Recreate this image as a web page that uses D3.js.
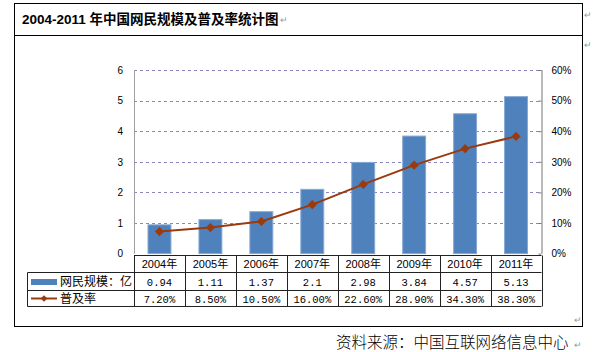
<!DOCTYPE html>
<html>
<head>
<meta charset="utf-8">
<script src="https://cdn.jsdelivr.net/npm/d3@7/dist/d3.min.js"></script>
<style>
  body { margin: 0; background: #fff; }
  svg { display: block; }
  text { font-family: "Liberation Sans", "Noto Sans CJK SC", sans-serif; }
  .cjk { font-family: "Noto Sans CJK SC", sans-serif; }
  .mono { font-family: "Liberation Mono", "Noto Sans CJK SC", monospace; }
  .mark { fill: #9a9a9a; font-size: 9px; }
</style>
</head>
<body>
<div id="chart"></div>
<script>
// 2004-2011 中国网民规模及普及率
const years = ["2004年", "2005年", "2006年", "2007年", "2008年", "2009年", "2010年", "2011年"];
const users = [0.94, 1.11, 1.37, 2.1, 2.98, 3.84, 4.57, 5.13];        // 亿
const rate = [7.2, 8.5, 10.5, 16.0, 22.6, 28.9, 34.3, 38.3];           // %
const userLabels = ["0.94", "1.11", "1.37", "2.1", "2.98", "3.84", "4.57", "5.13"];
const leftTicks = [0, 1, 2, 3, 4, 5, 6];
const rightTicks = [0, 10, 20, 30, 40, 50, 60];

const width = 594, height = 352;
const plot = { left: 134, right: 541.5, top: 70, bottom: 253.6 };

const svg = d3.select("#chart").append("svg")
  .attr("width", width).attr("height", height);

// frame (word table look)
svg.append("rect").attr("x", 14.5).attr("y", 3.5).attr("width", 568).attr("height", 323)
  .attr("fill", "none").attr("stroke", "#000").attr("stroke-width", 1);
svg.append("line").attr("x1", 14.5).attr("x2", 582.5).attr("y1", 35.5).attr("y2", 35.5)
  .attr("stroke", "#000");

const title = svg.append("text").attr("x", 22).attr("y", 24)
  .style("font-size", "13.5px").style("font-weight", "bold")
  .text("2004-2011 年中国网民规模及普及率统计图");
const tw = title.node().getComputedTextLength();
svg.append("text").attr("class", "mark").attr("x", 22 + tw + 1).attr("y", 23).text("↵");
svg.append("text").attr("class", "mark").attr("x", 584).attr("y", 18).text("↵");
svg.append("text").attr("class", "mark").attr("x", 584).attr("y", 48).text("↵");
svg.append("text").attr("class", "mark").attr("x", 574).attr("y", 323).text("↵");

// SCALES
const x = d3.scaleBand().domain(years).range([plot.left, plot.right]);
const yL = d3.scaleLinear().domain([0, 6]).range([plot.bottom, plot.top]);
const yR = d3.scaleLinear().domain([0, 60]).range([plot.bottom, plot.top]);
const barW = x.bandwidth() * 0.45;

// GRIDLINES
svg.append("g").selectAll("line").data(leftTicks.slice(1)).join("line")
  .attr("x1", plot.left).attr("x2", plot.right)
  .attr("y1", d => Math.round(yL(d)) + 0.5).attr("y2", d => Math.round(yL(d)) + 0.5)
  .attr("stroke", "#8a87c0").attr("stroke-width", 1).attr("stroke-dasharray", "3,3");

// BARS
svg.append("g").selectAll("rect").data(years).join("rect")
  .attr("x", d => x(d) + (x.bandwidth() - barW) / 2)
  .attr("width", barW)
  .attr("y", (d, i) => yL(users[i]))
  .attr("height", (d, i) => plot.bottom - yL(users[i]))
  .attr("fill", "#4f81bd").attr("stroke", "#86a8d4").attr("stroke-width", 1);

// LINE
const lineColor = "#9b3a0c";
const pts = years.map((d, i) => [x(d) + x.bandwidth() / 2, yR(rate[i])]);
svg.append("path").datum(pts).attr("d", d3.line())
  .attr("fill", "none").attr("stroke", lineColor).attr("stroke-width", 2);
svg.append("g").selectAll("path").data(pts).join("path")
  .attr("transform", d => `translate(${d[0]},${d[1]}) rotate(45)`)
  .attr("d", d3.symbol(d3.symbolSquare, 42)())
  .attr("fill", lineColor);

// AXES
const axL = svg.append("g").attr("transform", `translate(${plot.left},0)`)
  .call(d3.axisLeft(yL).tickValues(leftTicks).tickFormat(d3.format("d")).tickSize(0).tickPadding(11));
axL.select(".domain").attr("stroke", "#a0a0a0").attr("d", `M0.5,${plot.top}V${plot.bottom}`);
axL.selectAll("text").style("font-size", "10px").attr("fill", "#000");

const axR = svg.append("g").attr("transform", `translate(${plot.right},0)`)
  .call(d3.axisRight(yR).tickValues(rightTicks).tickFormat(d => d + "%").tickSize(-3).tickPadding(10));
axR.select(".domain").attr("stroke", "#777").attr("d", `M0.5,${plot.top}V${plot.bottom}`);
axR.selectAll(".tick line").attr("stroke", "#777");
axR.selectAll("text").style("font-size", "10px").attr("fill", "#000");

// DATA TABLE
const tTop = 255.5, r1 = 272.5, r2 = 290.5, tBot = 306.5, legL = 27.5;
const tbl = svg.append("g").attr("stroke", "#222").attr("stroke-width", 1);
tbl.append("line").attr("x1", plot.left).attr("x2", plot.right).attr("y1", tTop).attr("y2", tTop);
[r1, r2, tBot].forEach(yy => tbl.append("line").attr("x1", legL).attr("x2", plot.right).attr("y1", yy).attr("y2", yy));
tbl.append("line").attr("x1", legL).attr("x2", legL).attr("y1", r1).attr("y2", tBot);
tbl.selectAll(".col").data(years.concat(["end"])).join("line")
  .attr("x1", d => Math.round(d === "end" ? plot.right : x(d)) + 0.5)
  .attr("x2", d => Math.round(d === "end" ? plot.right : x(d)) + 0.5)
  .attr("y1", tTop).attr("y2", tBot);

const cx = d => x(d) + x.bandwidth() / 2;
svg.append("g").selectAll("text").data(years).join("text")
  .attr("x", cx).attr("y", (tTop + r1) / 2 + 4).attr("text-anchor", "middle")
  .style("font-size", "11px").text(d => d);
svg.append("g").selectAll("text").data(years).join("text").attr("class", "mono")
  .attr("x", cx).attr("y", (r1 + r2) / 2 + 4).attr("text-anchor", "middle")
  .style("font-size", "10.5px").text((d, i) => userLabels[i]);
svg.append("g").selectAll("text").data(years).join("text").attr("class", "mono")
  .attr("x", cx).attr("y", (r2 + tBot) / 2 + 4).attr("text-anchor", "middle")
  .style("font-size", "10.5px").text((d, i) => rate[i].toFixed(2) + "%");

// legend keys in the table
svg.append("rect").attr("x", 31).attr("y", 279).attr("width", 26).attr("height", 6).attr("fill", "#4f81bd");
svg.append("text").attr("class", "cjk").attr("x", 60).attr("y", 286).style("font-size", "12px").text("网民规模：亿");
svg.append("line").attr("x1", 31).attr("x2", 57).attr("y1", 298.5).attr("y2", 298.5)
  .attr("stroke", lineColor).attr("stroke-width", 2);
svg.append("path").attr("transform", "translate(44,298.5) rotate(45)")
  .attr("d", d3.symbol(d3.symbolSquare, 22)()).attr("fill", lineColor);
svg.append("text").attr("class", "cjk").attr("x", 60).attr("y", 303).style("font-size", "12px").text("普及率");

// SOURCE
svg.append("text").attr("class", "cjk").attr("x", 336).attr("y", 348)
  .style("font-size", "15.5px").style("font-weight", "300").text("资料来源：中国互联网络信息中心");
svg.append("text").attr("class", "mark").attr("x", 574).attr("y", 348).text("↵");
</script>
</body>
</html>
